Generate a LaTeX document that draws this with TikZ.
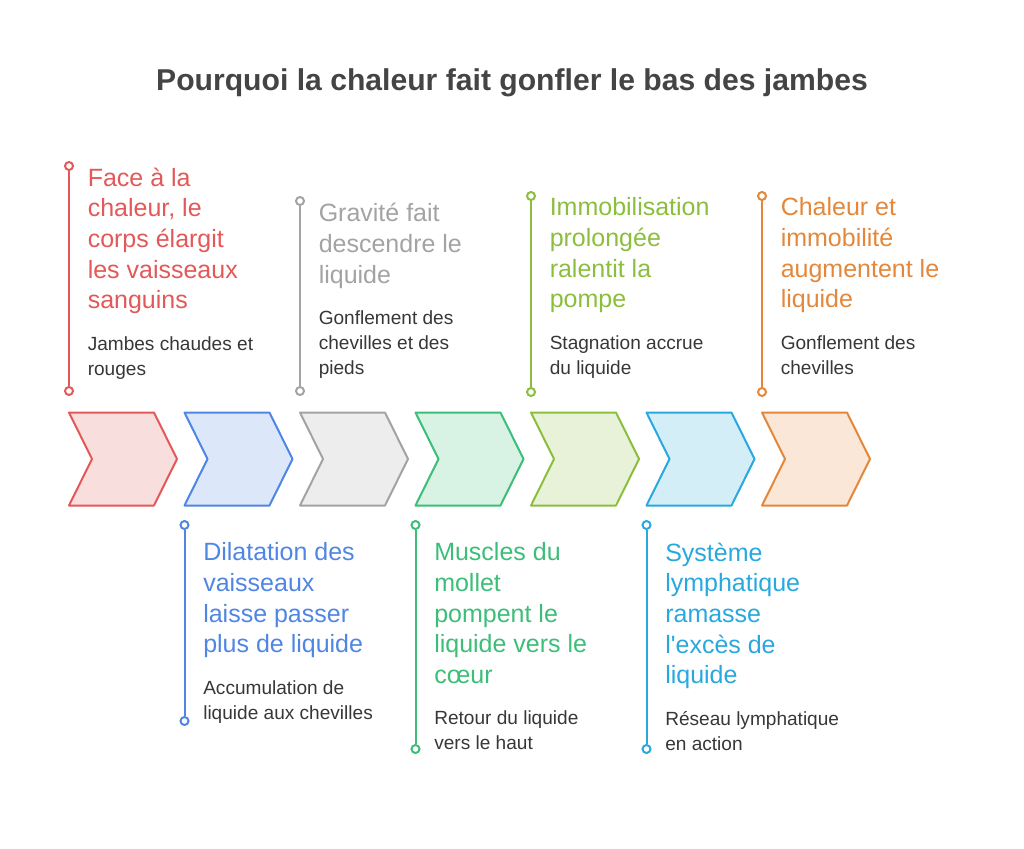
\documentclass[tikz,border=0pt]{standalone}
\usepackage{fontspec}
\setmainfont{Liberation Sans}
\usetikzlibrary{positioning}
\definecolor{heatred}{RGB}{227,88,88}
\definecolor{dilateblue}{RGB}{80,134,227}
\definecolor{gravitygray}{RGB}{163,163,163}
\definecolor{calfgreen}{RGB}{60,190,120}
\definecolor{restolive}{RGB}{140,190,62}
\definecolor{lymphcyan}{RGB}{40,168,222}
\definecolor{swellorange}{RGB}{228,135,58}
\definecolor{titlegray}{RGB}{68,68,68}
\definecolor{notegray}{RGB}{55,55,55}

\begin{document}
\begin{tikzpicture}[x=0.75pt, y=-0.75pt,
    head/.style={text=#1, font=\fontsize{18.75}{23}\selectfont, align=left,
        inner sep=0pt, anchor=north west,
        execute at begin node=\strut, execute at end node=\strut},
    note/.style={text=notegray, font=\fontsize{14.3}{18.6}\selectfont, align=left,
        inner sep=0pt, execute at begin node=\strut, execute at end node=\strut},
    dot/.style={circle, draw=#1, fill=white, line width=1.5pt, inner sep=0pt, minimum size=6pt},
    stem/.style={draw=#1, line width=1.5pt}]
    % Page size 1024 x 849 px
    \useasboundingbox (0,0) rectangle (1024,849);

    % Title
    \node[font=\bfseries\fontsize{22.6}{26}\selectfont, text=titlegray, anchor=base] (title) at (512,90)
        {Pourquoi la chaleur fait gonfler le bas des jambes};

    % Chevrons
    \foreach \x/\c in {69/heatred, 184.5/dilateblue, 300/gravitygray, 415.5/calfgreen,
                       531/restolive, 646.5/lymphcyan, 762/swellorange} {
        \draw[line width=1.5pt, line join=round, draw=\c, fill=\c!20]
            (\x,412.5) -- ++(85,0) -- ++(23,46.5) -- ++(-23,46.5) -- ++(-85,0) -- ++(23,-46.5) -- cycle;
    }

    % Step 1 (top)
    \node[head=heatred] (h1) at (87.5,167.5) {Face à la\\chaleur, le\\corps élargit\\les vaisseaux\\sanguins};
    \node[note, below right=13.4pt and 0pt of h1.south west] (n1) {Jambes chaudes et\\rouges};
    \node[dot=heatred] (s1a) at (69,166) {};
    \node[dot=heatred] (s1b) at (69,391) {};
    \draw[stem=heatred] (s1a) -- (s1b);

    % Step 2 (bottom)
    \node[head=dilateblue] (h2) at (203,542.5) {Dilatation des\\vaisseaux\\laisse passer\\plus de liquide};
    \node[note, below right=13.4pt and 0pt of h2.south west] (n2) {Accumulation de\\liquide aux chevilles};
    \node[dot=dilateblue] (s2a) at (184.5,525) {};
    \node[dot=dilateblue] (s2b) at (184.5,721) {};
    \draw[stem=dilateblue] (s2a) -- (s2b);

    % Step 3 (top)
    \node[head=gravitygray] (h3) at (318.5,203) {Gravité fait\\descendre le\\liquide};
    \node[note, below right=13.4pt and 0pt of h3.south west] (n3) {Gonflement des\\chevilles et des\\pieds};
    \node[dot=gravitygray] (s3a) at (300,201) {};
    \node[dot=gravitygray] (s3b) at (300,391) {};
    \draw[stem=gravitygray] (s3a) -- (s3b);

    % Step 4 (bottom)
    \node[head=calfgreen] (h4) at (434,542.5) {Muscles du\\mollet\\pompent le\\liquide vers le\\cœur};
    \node[note, below right=13.4pt and 0pt of h4.south west] (n4) {Retour du liquide\\vers le haut};
    \node[dot=calfgreen] (s4a) at (415.5,525) {};
    \node[dot=calfgreen] (s4b) at (415.5,749) {};
    \draw[stem=calfgreen] (s4a) -- (s4b);

    % Step 5 (top)
    \node[head=restolive] (h5) at (549.5,197.5) {Immobilisation\\prolongée\\ralentit la\\pompe};
    \node[note, below right=13.4pt and 0pt of h5.south west] (n5) {Stagnation accrue\\du liquide};
    \node[dot=restolive] (s5a) at (531,196) {};
    \node[dot=restolive] (s5b) at (531,392) {};
    \draw[stem=restolive] (s5a) -- (s5b);

    % Step 6 (bottom)
    \node[head=lymphcyan] (h6) at (665,542.5) {Système\\lymphatique\\ramasse\\l\textquotesingle excès de\\liquide};
    \node[note, below right=13.4pt and 0pt of h6.south west] (n6) {Réseau lymphatique\\en action};
    \node[dot=lymphcyan] (s6a) at (646.5,525) {};
    \node[dot=lymphcyan] (s6b) at (646.5,749) {};
    \draw[stem=lymphcyan] (s6a) -- (s6b);

    % Step 7 (top)
    \node[head=swellorange] (h7) at (780.5,197.5) {Chaleur et\\immobilité\\augmentent le\\liquide};
    \node[note, below right=13.4pt and 0pt of h7.south west] (n7) {Gonflement des\\chevilles};
    \node[dot=swellorange] (s7a) at (762,196) {};
    \node[dot=swellorange] (s7b) at (762,392) {};
    \draw[stem=swellorange] (s7a) -- (s7b);
\end{tikzpicture}
\end{document}
